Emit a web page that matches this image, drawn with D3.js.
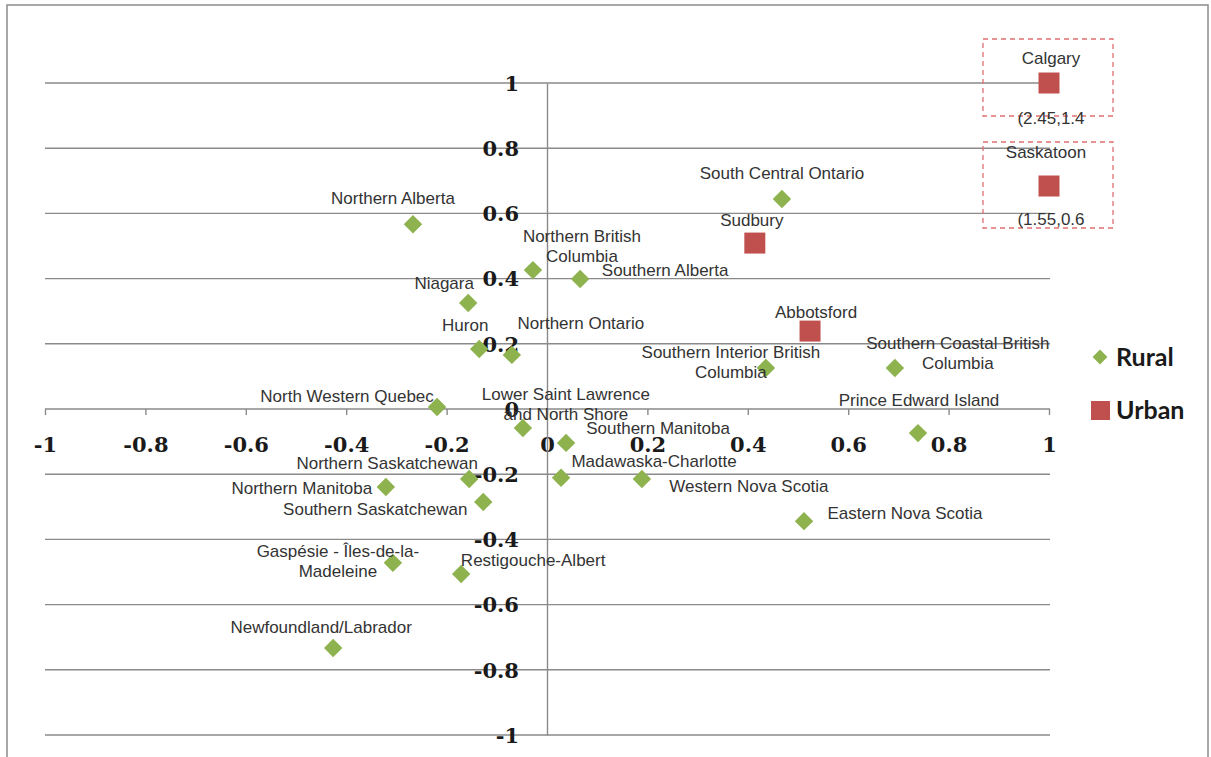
<!DOCTYPE html>
<html><head><meta charset="utf-8">
<script src="https://cdn.jsdelivr.net/npm/d3@7"></script>
<style>body{margin:0;background:#fff}</style>
</head><body><svg id="c" width="1211" height="757"></svg>
<script>
// ---- data ----
const ruralNames = ["Northern Alberta","Northern British\nColumbia","Southern Alberta","Niagara","Huron","Northern Ontario",
  "South Central Ontario","Southern Interior British\nColumbia","Southern Coastal British\nColumbia","Prince Edward Island",
  "North Western Quebec","Lower Saint Lawrence\nand North Shore","Southern Manitoba","Madawaska-Charlotte",
  "Western Nova Scotia","Eastern Nova Scotia","Northern Saskatchewan","Northern Manitoba","Southern Saskatchewan",
  "Gaspésie - Îles-de-la-\nMadeleine","Restigouche-Albert","Newfoundland/Labrador"];
const ruralX = [-0.267,-0.028,0.066,-0.157,-0.135,-0.070,0.468,0.436,0.693,0.739,-0.219,-0.048,0.038,0.028,0.189,0.512,-0.155,-0.321,-0.127,-0.307,-0.171,-0.426];
const ruralY = [0.567,0.426,0.399,0.325,0.184,0.166,0.644,0.126,0.126,-0.074,0.006,-0.058,-0.104,-0.211,-0.215,-0.344,-0.215,-0.239,-0.285,-0.472,-0.506,-0.733];
const urbanNames = ["Sudbury","Abbotsford","Calgary","Saskatoon"];
const urbanX = [0.414,0.524,1.0,1.0];
const urbanY = [0.509,0.239,1.0,0.684];
const urbanNotes = ["","","(2.45,1.4","(1.55,0.6"];
const xTicks = [-1,-0.8,-0.6,-0.4,-0.2,0,0.2,0.4,0.6,0.8,1];
const xTickLabels = ["-1","-0.8","-0.6","-0.4","-0.2","0","0.2","0.4","0.6","0.8","1"];
const yTicks = [-1,-0.8,-0.6,-0.4,-0.2,0,0.2,0.4,0.6,0.8,1];
const yTickLabels = ["-1","-0.8","-0.6","-0.4","-0.2","0","0.2","0.4","0.6","0.8","1"];
const seriesNames = ["Rural","Urban"];

// ---- label placement (pixels, relative to mark) ----
const ruralLabelDx = [-20,49,85,-24,-14,69,0,-35,63,1,-90,43,92,93,107,101,-82,-84,-108,-55,72,-12];
const ruralLabelDy = [-26,-34,-9,-20,-24,-32,-26,-16,-25,-33,-11,-34,-15,-17,7,-8,-16,1,7,-12,-14,-21];
const urbanLabelDx = [-3,6,2,-3];
const urbanLabelDy = [-23,-19,-25,-34];
const urbanNoteDy = [0,0,35,33];
const boxTop = [0,0,-44,-44];
const boxHeight = [0,0,77,86];

// ---- drawing ----
const svg = d3.select("#c");
const green = "#8DB24E", red = "#C0504D", grid = "#8a8a8a";
const x = d3.scaleLinear().domain([-1,1]).range([45,1049]);
const y = d3.scaleLinear().domain([-1,1]).range([735,83]);

// outer frame
svg.append("rect").attr("x",7).attr("y",5).attr("width",1201).attr("height",760)
  .attr("fill","#fff").attr("stroke","#8c8c8c").attr("stroke-width",1.5);

// horizontal gridlines
svg.append("g").selectAll("line").data(yTicks.filter(v=>v!==0)).join("line")
  .attr("x1",x(-1)).attr("x2",x(1)+1).attr("y1",d=>y(d)).attr("y2",d=>y(d))
  .attr("stroke",grid).attr("stroke-width",1.4);

// x axis
const gx = svg.append("g").attr("transform",`translate(0,${y(0)})`)
  .call(d3.axisBottom(x).tickValues(xTicks).tickSize(6).tickSizeOuter(0).tickFormat((d,i)=>xTickLabels[i]));
gx.select(".domain").attr("stroke",grid).attr("stroke-width",1.4).attr("d",`M${x(-1)},0H${x(1)+1}`);
gx.selectAll(".tick line").attr("stroke",grid).attr("stroke-width",1.4);
gx.selectAll(".tick text").attr("y",36).attr("dy","0.35em")
  .attr("font-family","DejaVu Serif").attr("font-weight","bold").attr("font-size",21).attr("fill","#1a1a1a");

// y axis
const gy = svg.append("g").attr("transform",`translate(${x(0)},0)`)
  .call(d3.axisLeft(y).tickValues(yTicks).tickSize(0).tickSizeOuter(0).tickFormat((d,i)=>yTickLabels[i]));
gy.select(".domain").attr("stroke",grid).attr("stroke-width",1.4);
gy.selectAll(".tick text").attr("x",-28).attr("dy","0.35em")
  .attr("font-family","DejaVu Serif").attr("font-weight","bold").attr("font-size",21).attr("fill","#1a1a1a");

// dashed boxes around out-of-range urban points
const noteIdx = urbanNotes.map((n,i)=>n?i:-1).filter(i=>i>=0);
svg.append("g").selectAll("rect").data(noteIdx).join("rect")
  .attr("x",d=>x(urbanX[d])-66).attr("y",d=>y(urbanY[d])+boxTop[d])
  .attr("width",130).attr("height",d=>boxHeight[d])
  .attr("fill","none").attr("stroke","#E07070").attr("stroke-width",1.3).attr("stroke-dasharray","5,4");

// rural markers
const diamond = d3.symbol().type(d3.symbolSquare).size(170);
svg.append("g").selectAll("path").data(ruralX.map((v,i)=>i)).join("path")
  .attr("d",diamond).attr("fill",green)
  .attr("transform",i=>`translate(${x(ruralX[i])},${y(ruralY[i])}) rotate(45)`);

// urban markers
const sq = d3.symbol().type(d3.symbolSquare).size(441);
svg.append("g").selectAll("path").data(urbanX.map((v,i)=>i)).join("path")
  .attr("d",sq).attr("fill",red)
  .attr("transform",i=>`translate(${x(urbanX[i])},${y(urbanY[i])})`);

// labels
function label(cx, cy, text){
  const lines = text.split("\n");
  const t = svg.append("text").attr("x",cx).attr("y",cy).attr("text-anchor","middle")
    .attr("font-family","Liberation Sans, Arial, sans-serif").attr("font-size",17).attr("fill","#333");
  lines.forEach((l,k)=>t.append("tspan").attr("x",cx).attr("y",cy+k*20).attr("dy","0.35em").text(l));
}
ruralNames.forEach((n,i)=>label(x(ruralX[i])+ruralLabelDx[i], y(ruralY[i])+ruralLabelDy[i], n));
urbanNames.forEach((n,i)=>label(x(urbanX[i])+urbanLabelDx[i], y(urbanY[i])+urbanLabelDy[i], n));
urbanNotes.forEach((n,i)=>{ if(n) label(x(urbanX[i])+2, y(urbanY[i])+urbanNoteDy[i], n); });

// legend
const lg = svg.append("g");
lg.append("path").attr("d",d3.symbol().type(d3.symbolSquare).size(110)).attr("fill",green)
  .attr("transform","translate(1100,357) rotate(45)");
lg.append("rect").attr("x",1091).attr("y",401).attr("width",19).attr("height",19).attr("fill",red);
seriesNames.forEach((s,i)=>lg.append("text").attr("x",1116).attr("y",357+i*53).attr("dy","0.35em")
  .attr("font-family","Lato, sans-serif").attr("font-weight","bold").attr("font-size",25).attr("fill","#1a1a1a").text(s));
</script></body></html>
